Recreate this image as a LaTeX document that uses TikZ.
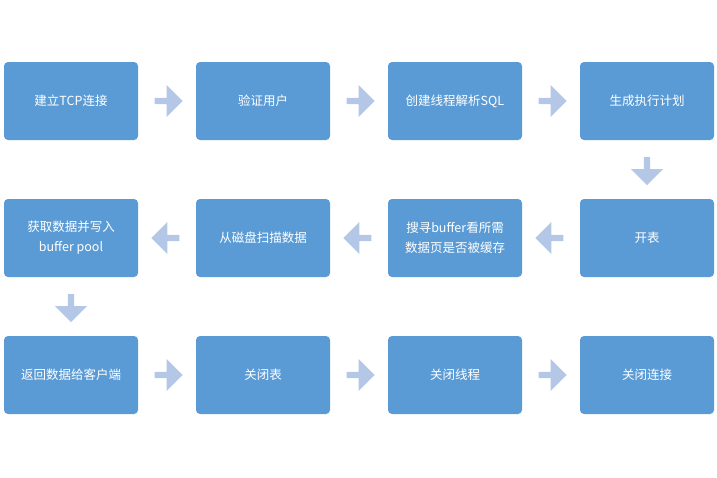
\documentclass[tikz,border=0pt]{standalone}
\usepackage{fontspec}
\setmainfont{Noto Sans CJK SC}
\usetikzlibrary{shapes.arrows,positioning,calc}
\definecolor{boxblue}{HTML}{5B9BD5}
\definecolor{arrblue}{HTML}{B4C7E7}
\tikzset{
  stepbox/.style={rectangle, rounded corners=4pt, fill=boxblue, text=white,
    minimum width=134pt, minimum height=78pt, inner sep=2pt, align=center,
    font=\fontsize{12.5}{20}\selectfont},
  flowarrow/.style={single arrow, fill=arrblue, draw=none, minimum width=32pt,
    single arrow head extend=7pt, minimum height=28pt, inner sep=1.5pt}
}
\begin{document}
\begin{tikzpicture}[x=1pt,y=-1pt]
\useasboundingbox (0,0) rectangle (717,477);
%the boxes
\node[stepbox] (b1) at (71,101) {建立TCP连接};
\node[stepbox] (b2) at (263,101) {验证用户};
\node[stepbox] (b3) at (455,101) {创建线程解析SQL};
\node[stepbox] (b4) at (647,101) {生成执行计划};
\node[stepbox] (b5) at (647,238) {开表};
\node[stepbox] (b6) at (455,238) {搜寻buffer看所需\\数据页是否被缓存};
\node[stepbox] (b7) at (263,238) {从磁盘扫描数据};
\node[stepbox] (b8) at (71,238) {获取数据并写入\\buffer pool};
\node[stepbox] (b9) at (71,375) {返回数据给客户端};
\node[stepbox] (b10) at (263,375) {关闭表};
\node[stepbox] (b11) at (455,375) {关闭线程};
\node[stepbox] (b12) at (647,375) {关闭连接};
%the arrows
\foreach \a/\b in {b1/b2,b2/b3,b3/b4,b9/b10,b10/b11,b11/b12}
  \node[flowarrow] at ($(\a)!0.5!(\b)$) {};
\foreach \a/\b in {b5/b6,b6/b7,b7/b8}
  \node[flowarrow, shape border rotate=180] at ($(\a)!0.5!(\b)$) {};
\foreach \a/\b in {b4/b5,b8/b9}
  \node[flowarrow, shape border rotate=270] at ($(\a)!0.5!(\b)$) {};
\end{tikzpicture}
\end{document}
